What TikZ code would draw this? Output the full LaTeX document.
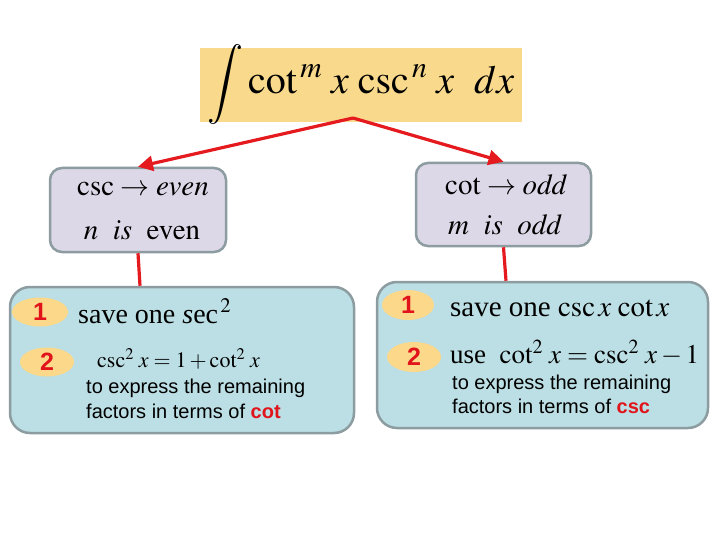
\documentclass[tikz,border=0pt]{standalone}
\usepackage{mathptmx}
\usepackage{fontspec}
\setmainfont{Liberation Serif}
\newfontfamily\arial{Liberation Sans}
\usetikzlibrary{arrows.meta,shapes.geometric}
\definecolor{topyel}{HTML}{F9D98C}
\definecolor{ovalyel}{HTML}{FCD98A}
\definecolor{lav}{HTML}{DDD8E7}
\definecolor{cyanbox}{HTML}{BBDFE4}
\definecolor{boxgray}{HTML}{8D9CA0}
\definecolor{arrred}{HTML}{E51A1F}
\definecolor{numred}{HTML}{E0141A}
\begin{document}
\begin{tikzpicture}[x=1pt,y=-1pt,
  purplebox/.style={draw=boxgray, line width=2.5pt, fill=lav, rounded corners=12pt, inner sep=0pt},
  cyanpanel/.style={draw=boxgray, line width=2.5pt, fill=cyanbox, rounded corners=20pt, inner sep=0pt},
  oval/.style={ellipse, fill=ovalyel, inner sep=0pt, font=\arial\bfseries\fontsize{25}{27}\selectfont, text=numred},
  redarrow/.style={draw=arrred, line width=3.2pt, -{Triangle[length=15pt,width=15pt]}},
  redline/.style={draw=arrred, line width=3.2pt},
  boxmath/.style={font=\fontsize{29}{32}\selectfont, inner sep=0pt},
  bigmath/.style={font=\fontsize{28}{32}\selectfont, inner sep=0pt},
  sanstext/.style={font=\arial\fontsize{20}{24}\selectfont, inner sep=0pt, anchor=base west}
]
\useasboundingbox (0,0) rectangle (720,540);
\fill[white] (0,0) rectangle (720,540);

% top box
\node[fill=topyel, minimum width=322pt, minimum height=74pt, inner sep=0pt] (top) at (361,85) {};
\node[font=\fontsize{40}{44}\selectfont, inner sep=0pt] (formula) at (361,84) {$\displaystyle\int \cot^{\,m}\, x\,\csc^{\,n}\, x\ \ dx$};

% purple boxes
\node[purplebox, minimum width=176pt, minimum height=84pt] (lp) at (138,210) {};
\node[purplebox, minimum width=175pt, minimum height=83pt] (rp) at (503.5,204.5) {};
\node[boxmath] (lp1) at (143,189) {$\csc\rightarrow \mathit{even}$};
\node[boxmath] (lp2) at (142,230) {$n\ \ \mathit{is}\ \ \mathrm{even}$};
\node[boxmath] (rp1) at (506,185) {$\cot\rightarrow \mathit{odd}$};
\node[boxmath] (rp2) at (505,225) {$m\ \ \mathit{is}\ \ \mathit{odd}$};

% cyan panels
\node[cyanpanel, minimum width=344pt, minimum height=146pt] (lc) at (182,360) {};
\node[cyanpanel, minimum width=331pt, minimum height=146pt] (rc) at (542.5,355) {};

% connectors
\coordinate (apex) at (353,118);
\draw[redarrow] (apex) -- (lp.north);
\draw[redarrow] (apex) -- (rp.north);
\draw[redline] (lp.south) -- ([xshift=2pt]lp.south |- lc.north);
\draw[redline] (rp.south) -- ([xshift=2.5pt]rp.south |- rc.north);

% ovals
\node[oval, minimum width=56pt, minimum height=29pt] (l1) at (40,312) {1};
\node[oval, minimum width=54pt, minimum height=29pt] (l2) at (47,362) {2};
\node[oval, minimum width=52pt, minimum height=30pt] (r1) at (408,305) {1};
\node[oval, minimum width=54pt, minimum height=30pt] (r2) at (414,357) {2};

% left panel text
\node[bigmath, anchor=base west] (lt1) at (78,323) {save one \textit{s}ec$^{\,2}$};
\node[font=\fontsize{22}{26}\selectfont, inner sep=0pt, anchor=base west] (lt2) at (97,367) {$\csc^{2}\, x = 1 + \cot^{2}\, x$};
\node[sanstext] (lt3) at (86,393) {to express the remaining};
\node[sanstext] (lt4) at (86,418) {factors in terms of {\bfseries\color{numred}cot}};

% right panel text
\node[font=\fontsize{29}{32}\selectfont, inner sep=0pt, anchor=base west] (rt1) at (450,316) {save one $\csc x\,\cot x$};
\node[font=\fontsize{27}{32}\selectfont, inner sep=0pt, anchor=base west] (rt2) at (450,363) {use\ \ $\cot^{2}\, x = \csc^{2}\, x - 1$};
\node[sanstext] (rt3) at (452,389) {to express the remaining};
\node[sanstext] (rt4) at (452,413) {factors in terms of {\bfseries\color{numred}csc}};
\end{tikzpicture}
\end{document}
